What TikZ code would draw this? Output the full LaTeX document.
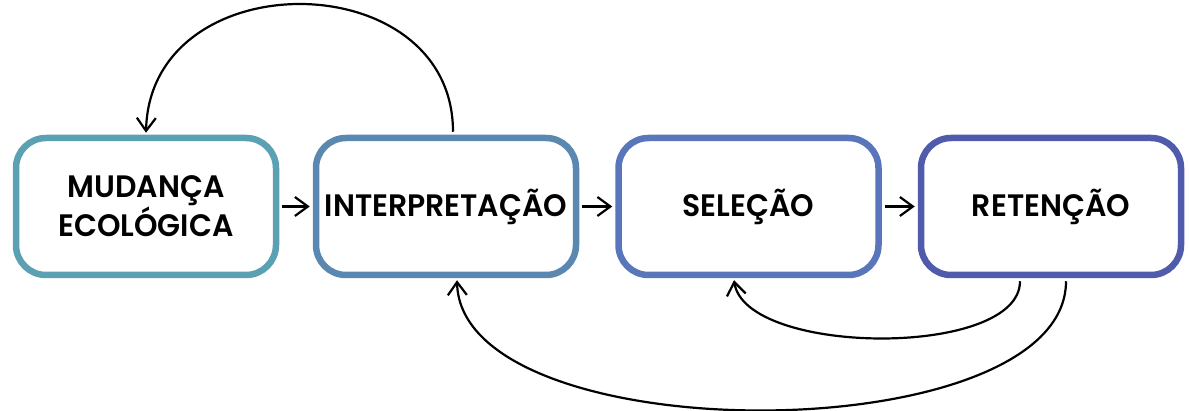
\documentclass[tikz,border=0pt]{standalone}
\usepackage{fontspec}
\usetikzlibrary{arrows.meta}
\IfFontExistsTF{Poppins SemiBold}
  {\newfontfamily\labfam{Poppins SemiBold}[FakeStretch=0.965]\def\labsel{\labfam}}
  {\newfontfamily\labfam{Poppins}[FakeStretch=0.965]\def\labsel{\labfam\bfseries}}

\definecolor{boxA}{HTML}{5BA1B3}
\definecolor{boxB}{HTML}{5A88B1}
\definecolor{boxC}{HTML}{5876B9}
\definecolor{boxD}{HTML}{505BAC}

\tikzset{
  stage/.style={draw=#1, line width=6.5pt, rounded corners=30pt, fill=white,
    minimum width=260pt, minimum height=137pt, inner sep=0pt, align=center,
    font=\labsel\fontsize{31}{35}\selectfont, text=black},
  flow/.style={line width=2.2pt, black,
    -{Straight Barb[length=13pt,width=19pt,line width=2.2pt]}},
}

\begin{document}
\begin{tikzpicture}[x=1pt,y=-1pt]
  \useasboundingbox (0,0) rectangle (1189,411);

  % the four stages of the process
  \node[stage=boxA] (b1) at (146,206.5) {MUDANÇA\\ECOLÓGICA};
  \node[stage=boxB] (b2) at (446,206.5) {INTERPRETAÇÃO};
  \node[stage=boxC] (b3) at (748.5,206.5) {SELEÇÃO};
  \node[stage=boxD] (b4) at (1051,206.5) {RETENÇÃO};

  % straight links between neighbouring stages
  \draw[flow, shorten <=3pt, shorten >=3pt] (b1.east) -- (b2.west);
  \draw[flow, shorten <=3pt, shorten >=3pt] (b2.east) -- (b3.west);
  \draw[flow, shorten <=3pt, shorten >=3pt] (b3.east) -- (b4.west);

  % feedback loops
  \coordinate (t2) at ([xshift=7pt]b2.north);
  \coordinate (t1) at ([yshift=2pt]b1.north);
  \draw[flow, shorten <=3pt] (t2) .. controls +(0,-172) and +(4,-172) .. (t1);

  \coordinate (s4a) at ([xshift=-31pt]b4.south);
  \coordinate (s3) at ([xshift=-14.5pt,yshift=-2pt]b3.south);
  \draw[flow, shorten <=3pt] (s4a) .. controls +(0,80) and +(12,76) .. (s3);

  \coordinate (s4b) at ([xshift=15pt]b4.south);
  \coordinate (s2) at ([xshift=11pt,yshift=-2pt]b2.south);
  \draw[flow, shorten <=3pt] (s4b) .. controls +(0,174) and +(4,174) .. (s2);
\end{tikzpicture}
\end{document}
